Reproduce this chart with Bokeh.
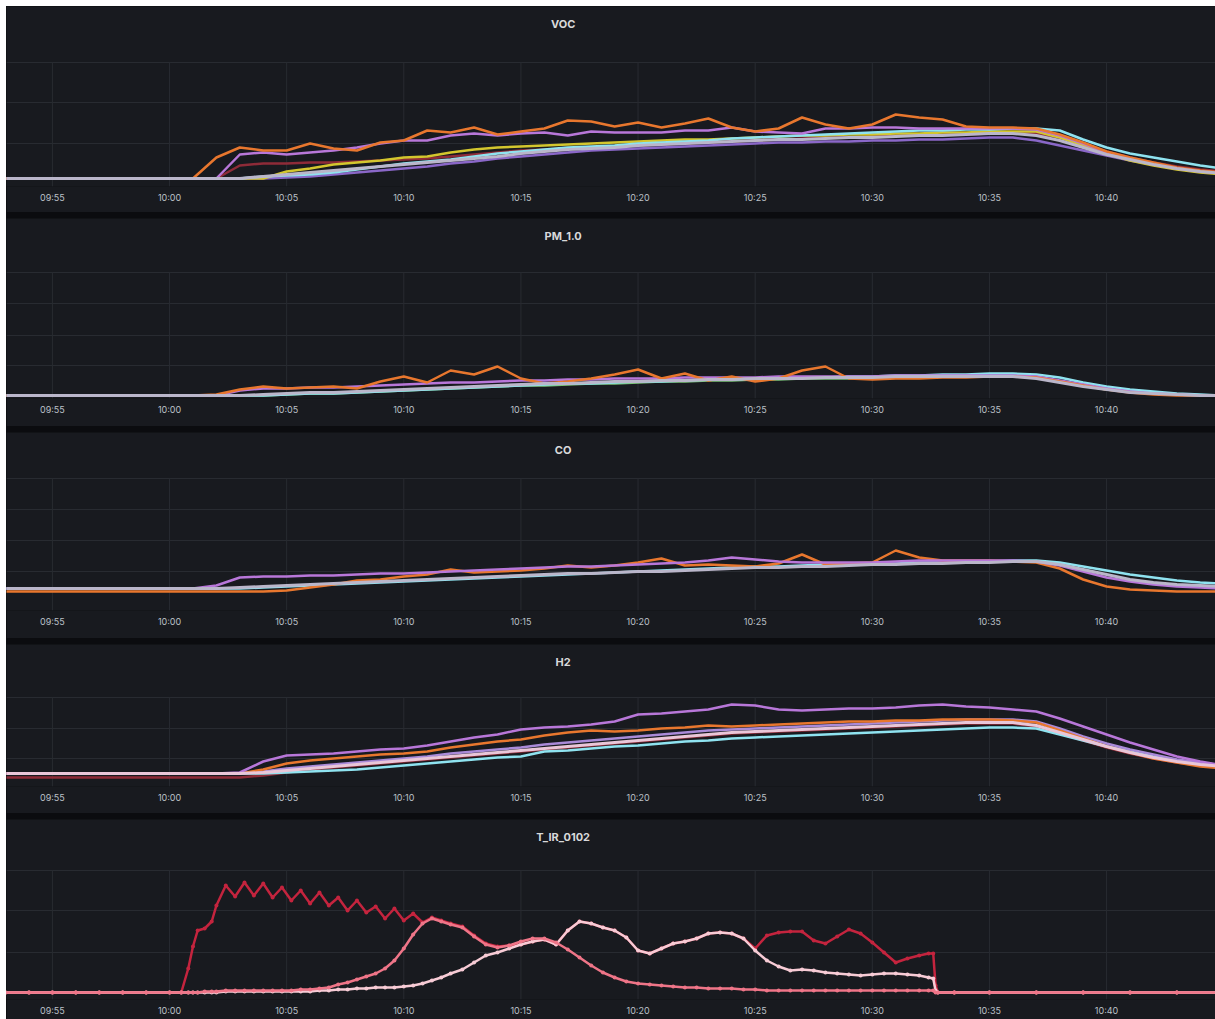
from bokeh.plotting import figure
from bokeh.layouts import column, row
from bokeh.models import Range1d, FixedTicker, Grid, ColumnDataSource, Spacer
from bokeh.core.properties import value
from bokeh.embed import file_html
from bokeh.resources import INLINE

# ---------------- time axis (minutes relative to 10:00) ----------------
tick_pos = [-5, 0, 5, 10, 15, 20, 25, 30, 35, 40]
tick_labels = ["09:55", "10:00", "10:05", "10:10", "10:15", "10:20",
               "10:25", "10:30", "10:35", "10:40"]

t_gas = [-7, -6, -5, -4, -3, -2, -1, 0, 1, 2,
         3, 4, 5, 6, 7, 8, 9, 10, 11, 12,
         13, 14, 15, 16, 17, 18, 19, 20, 21, 22,
         23, 24, 25, 26, 27, 28, 29, 30, 31, 32,
         33, 34, 35, 36, 37, 38, 39, 40, 41, 42,
         43, 44, 45]

# ---------------- VOC ----------------
voc_orange = [9, 9, 9, 9, 9, 9, 9, 9, 9, 30,
              40, 37, 37, 44, 39, 37, 45, 47, 57, 55,
              60, 53, 56, 59, 67, 66, 61, 65, 60, 64,
              69, 60, 56, 59, 70, 63, 59, 63, 73, 70,
              68, 61, 60, 60, 59, 53, 45, 36, 30, 25,
              20, 17, 15]
voc_purple = [9, 9, 9, 9, 9, 9, 9, 9, 9, 9,
              33, 35, 33, 35, 37, 40, 44, 47, 47, 52,
              54, 52, 54, 55, 52, 56, 55, 55, 55, 57,
              57, 60, 56, 55, 54, 59, 59, 60, 60, 59,
              59, 59, 59, 59, 58, 52, 44, 35, 29, 24,
              19, 16, 14]
voc_gray = [9, 9, 9, 9, 9, 9, 9, 9, 9, 9,
            9, 11, 13, 15, 17, 19, 21, 23, 25, 27,
            29, 31, 34, 36, 38, 39, 40, 42, 43, 44,
            45, 46, 47, 48, 48, 49, 50, 50, 51, 52,
            52, 53, 54, 54, 52, 47, 40, 33, 28, 23,
            19, 16, 14]
voc_cyan = [9, 9, 9, 9, 9, 9, 9, 9, 9, 9,
            9, 11, 12, 13, 15, 18, 21, 24, 26, 28,
            31, 34, 36, 38, 40, 41, 42, 44, 45, 46,
            47, 49, 50, 51, 52, 53, 54, 55, 56, 57,
            57, 58, 58, 59, 59, 57, 48, 40, 34, 30,
            26, 22, 19]
voc_violet = [9, 9, 9, 9, 9, 9, 9, 9, 9, 9,
              9, 9, 10, 11, 13, 15, 17, 19, 21, 24,
              26, 29, 31, 33, 35, 37, 38, 39, 40, 41,
              42, 43, 44, 45, 45, 46, 46, 47, 47, 48,
              48, 49, 50, 50, 47, 42, 37, 32, 27, 23,
              19, 16, 14]
voc_yellow = [9, 9, 9, 9, 9, 9, 9, 9, 9, 9,
              9, 9, 16, 19, 23, 25, 27, 30, 31, 35,
              38, 40, 41, 42, 43, 44, 45, 46, 47, 48,
              48, 49, 50, 51, 52, 52, 53, 53, 54, 54,
              55, 55, 56, 56, 56, 50, 42, 34, 27, 22,
              18, 15, 13]
voc_darkred = [9, 9, 9, 9, 9, 9, 9, 9, 9, 9,
               22, 24, 24, 25, 25, 26, 27, 28, 29, 31,
               33, 35, 37, 38, 39, 40, 41, 42, 43, 44,
               45, 46, 47, 48, 49, 50, 50, 51, 52, 52,
               53, 53, 54, 54, 54, 50, 43, 36, 30, 25,
               21, 18, 16]

# ---------------- PM_1.0 ----------------
pm_orange = [5, 5, 5, 5, 5, 5, 5, 5, 5, 6,
             11, 14, 12, 13, 14, 12, 19, 24, 18, 30,
             26, 34, 22, 17, 19, 22, 26, 31, 22, 27,
             20, 24, 19, 22, 30, 34, 22, 21, 22, 22,
             23, 23, 24, 24, 23, 19, 15, 11, 8, 6,
             5, 5, 5]
pm_purple = [5, 5, 5, 5, 5, 5, 5, 5, 5, 5,
             10, 12, 12, 13, 13, 14, 15, 16, 17, 18,
             18, 19, 20, 20, 21, 21, 22, 22, 22, 23,
             23, 23, 23, 24, 24, 24, 24, 24, 25, 25,
             25, 25, 25, 25, 24, 20, 16, 12, 9, 7,
             6, 5, 5]
pm_gray = [5, 5, 5, 5, 5, 5, 5, 5, 5, 5,
           5, 6, 7, 8, 8, 9, 10, 11, 12, 13,
           14, 15, 16, 17, 17, 18, 19, 19, 20, 20,
           21, 21, 22, 22, 22, 23, 23, 23, 24, 24,
           24, 24, 24, 24, 22, 18, 14, 11, 8, 7,
           6, 5, 5]
pm_cyan = [5, 5, 5, 5, 5, 5, 5, 5, 5, 5,
           5, 5, 6, 7, 7, 8, 9, 10, 11, 12,
           13, 14, 15, 16, 17, 17, 18, 19, 19, 20,
           21, 21, 22, 22, 23, 23, 24, 24, 25, 25,
           26, 26, 27, 27, 26, 23, 18, 14, 11, 9,
           7, 6, 5]
pm_green = [5, 5, 5, 5, 5, 5, 5, 5, 5, 5,
            5, 5, 6, 7, 7, 8, 9, 10, 11, 12,
            13, 14, 15, 15, 16, 17, 17, 18, 19, 19,
            20, 20, 21, 21, 22, 22, 22, 23, 23, 23,
            24, 24, 25, 25, 23, 19, 15, 11, 9, 7,
            6, 5, 5]

# ---------------- CO ----------------
co_gray = [24, 24, 24, 24, 24, 24, 24, 24, 24, 24,
           25, 26, 27, 28, 29, 30, 31, 32, 33, 34,
           35, 36, 37, 38, 39, 39, 40, 41, 41, 42,
           43, 44, 45, 45, 46, 46, 47, 48, 48, 49,
           49, 50, 50, 51, 51, 48, 43, 38, 33, 30,
           28, 27, 26]
co_cyan = [24, 24, 24, 24, 24, 24, 24, 24, 24, 24,
           24, 25, 26, 27, 28, 29, 30, 31, 32, 33,
           34, 35, 36, 37, 38, 39, 40, 41, 42, 43,
           44, 45, 46, 46, 47, 48, 48, 49, 49, 50,
           50, 51, 51, 52, 52, 50, 46, 42, 38, 35,
           32, 30, 29]
co_purple = [24, 24, 24, 24, 24, 24, 24, 24, 24, 27,
             35, 36, 36, 37, 37, 38, 39, 39, 40, 41,
             42, 43, 44, 45, 46, 46, 47, 48, 49, 50,
             52, 55, 53, 51, 50, 50, 50, 50, 51, 52,
             52, 52, 52, 52, 51, 47, 41, 35, 31, 28,
             26, 25, 24]
co_orange = [21, 21, 21, 21, 21, 21, 21, 21, 21, 21,
             21, 21, 22, 25, 28, 32, 33, 36, 38, 43,
             40, 41, 42, 44, 47, 45, 47, 50, 54, 47,
             48, 47, 46, 49, 58, 48, 49, 50, 62, 55,
             52, 52, 52, 51, 50, 44, 33, 26, 23, 22,
             21, 21, 21]

# ---------------- H2 ----------------
h2_purple = [14, 14, 14, 14, 14, 14, 14, 14, 14, 14,
             15, 26, 32, 33, 34, 36, 38, 39, 42, 46,
             50, 53, 58, 60, 61, 63, 66, 73, 74, 76,
             78, 83, 82, 78, 77, 78, 79, 79, 80, 82,
             83, 81, 80, 78, 76, 69, 61, 53, 45, 38,
             31, 26, 22]
h2_orange = [14, 14, 14, 14, 14, 14, 14, 14, 14, 14,
             14, 18, 24, 27, 29, 31, 33, 34, 36, 40,
             43, 46, 48, 52, 55, 57, 56, 57, 59, 60,
             62, 61, 62, 63, 64, 65, 66, 66, 67, 67,
             68, 68, 68, 67, 65, 57, 49, 41, 35, 29,
             25, 21, 19]
h2_violet = [14, 14, 14, 14, 14, 14, 14, 14, 14, 14,
             14, 16, 19, 21, 23, 25, 27, 29, 31, 34,
             36, 38, 40, 43, 45, 47, 49, 51, 53, 55,
             57, 58, 59, 60, 61, 62, 63, 64, 65, 66,
             67, 68, 68, 68, 66, 59, 51, 44, 38, 33,
             28, 25, 22]
h2_pink = [14, 14, 14, 14, 14, 14, 14, 14, 14, 14,
           14, 15, 17, 19, 21, 23, 25, 27, 29, 31,
           33, 35, 37, 39, 41, 43, 45, 47, 49, 51,
           53, 55, 56, 57, 58, 59, 60, 61, 62, 63,
           64, 65, 65, 65, 62, 55, 48, 41, 35, 30,
           26, 23, 21]
h2_cyan = [14, 14, 14, 14, 14, 14, 14, 14, 14, 14,
           14, 14, 15, 16, 17, 18, 20, 22, 24, 26,
           28, 30, 31, 36, 37, 39, 41, 42, 44, 46,
           47, 49, 50, 51, 52, 53, 54, 55, 56, 57,
           58, 59, 60, 60, 59, 53, 47, 41, 36, 31,
           27, 24, 22]
h2_darkred = [10, 10, 10, 10, 10, 10, 10, 10, 10, 10,
              10, 12, 15, 18, 20, 22, 24, 26, 28, 30,
              32, 34, 36, 38, 40, 42, 44, 46, 48, 50,
              52, 54, 55, 56, 57, 58, 59, 60, 61, 62,
              63, 64, 64, 64, 61, 54, 47, 40, 34, 29,
              25, 22, 20]

# ---------------- T_IR_0102 ----------------
t_ir = [-7, -6, -5, -4, -3, -2, -1, 0, 0.5, 0.8,
        1.0, 1.2, 1.5, 1.8, 2.0, 2.4, 2.8, 3.2, 3.6, 4.0,
        4.4, 4.8, 5.2, 5.6, 6.0, 6.4, 6.8, 7.2, 7.6, 8.0,
        8.4, 8.8, 9.2, 9.6, 10.0, 10.4, 10.8, 11.2, 11.6, 12.0,
        12.5, 13.0, 13.5, 14.0, 14.5, 15.0, 15.5, 16.0, 16.5, 17.0,
        17.5, 18.0, 18.5, 19.0, 19.5, 20.0, 20.5, 21.0, 21.5, 22.0,
        22.5, 23.0, 23.5, 24.0, 24.5, 25.0, 25.5, 26.0, 26.5, 27.0,
        27.5, 28.0, 28.5, 29.0, 29.5, 30.0, 30.5, 31.0, 31.5, 32.0,
        32.4, 32.6, 32.7, 32.8, 33.5, 35, 37, 39, 41, 43,
        45]
ir_1 = [6, 6, 6, 6, 6, 6, 6, 6, 6, 30,
        52, 68, 70, 77, 93, 113, 102, 116, 103, 115,
        101, 111, 98, 108, 95, 106, 93, 101, 88, 98,
        86, 92, 80, 90, 78, 85, 76, 81, 78, 75,
        72, 63, 55, 52, 53, 54, 57, 59, 54, 68,
        77, 75, 71, 68, 61, 48, 45, 50, 55, 57,
        60, 65, 66, 65, 60, 50, 63, 66, 67, 67,
        58, 55, 62, 69, 65, 56, 46, 36, 40, 43,
        45, 45, 13, 6, 6, 6, 6, 6, 6, 6,
        6]
ir_2 = [6, 6, 6, 6, 6, 6, 6, 6, 6, 6,
        6, 6, 7, 7, 7, 8, 8, 8, 8, 8,
        8, 8, 8, 9, 9, 10, 11, 14, 16, 19,
        22, 25, 30, 38, 50, 64, 75, 80, 77, 74,
        71, 62, 54, 51, 53, 57, 60, 60, 56, 49,
        41, 33, 26, 21, 17, 15, 14, 13, 12, 11,
        11, 10, 10, 10, 9, 9, 8, 8, 8, 8,
        8, 8, 8, 8, 8, 8, 8, 8, 8, 8,
        8, 8, 6, 6, 6, 6, 6, 6, 6, 6,
        6]
ir_3 = [6, 6, 6, 6, 6, 6, 6, 6, 6, 6,
        6, 6, 6, 6, 6, 7, 7, 7, 7, 7,
        7, 7, 7, 7, 7, 8, 8, 9, 9, 10,
        10, 11, 11, 11, 12, 13, 15, 18, 21, 25,
        29, 36, 43, 46, 50, 54, 57, 59, 54, 68,
        77, 75, 71, 68, 61, 48, 45, 50, 55, 57,
        60, 65, 66, 65, 60, 48, 38, 32, 28, 29,
        28, 26, 25, 24, 23, 24, 25, 25, 24, 23,
        21, 20, 8, 6, 6, 6, 6, 6, 6, 6,
        6]

# ---------------- styling ----------------
BG = "#181a1f"
GAP = "#0b0c0f"
GRID = "#282b31"
TITLE_C = "#d8d9da"
TICK_C = "#bcc1c8"
FONT = "Inter"
W = 1209
X0, X1 = -6.96, 44.65
TITLE_X = 16.8
LW = 2.5

ORANGE = "#e8772e"
PURPLE = "#b877d9"
YELLOW = "#d3c62e"
CYAN = "#8fe3f0"
GRAY = "#bab6ca"
VIOLET = "#8a67c8"
DARKRED = "#8e2b38"
GREEN = "#7cc47a"
PINK = "#e9c6d8"
LAV = "#a98ad8"
IR1 = "#c4243e"
IR2 = "#ef7588"
IR3 = "#f7cbd5"


def make_panel(title, height, bottom, y0, y1, ygrid, t, series, points=False):
    p = figure(width=W, height=height, x_range=Range1d(X0, X1),
               y_range=Range1d(y0, y1), output_backend="svg",
               toolbar_location=None, y_axis_location=None,
               min_border_left=0, min_border_right=0,
               min_border_top=0, min_border_bottom=bottom)
    p.background_fill_color = BG
    p.border_fill_color = BG
    p.outline_line_color = None

    ax = p.xaxis[0]
    ax.ticker = FixedTicker(ticks=tick_pos)
    ax.major_label_overrides = dict(zip(tick_pos, tick_labels))
    ax.major_tick_out = 0
    ax.major_tick_in = 0
    ax.minor_tick_out = 0
    ax.minor_tick_in = 0
    ax.axis_line_color = None
    ax.major_label_standoff = 5
    ax.major_label_text_font = FONT
    ax.major_label_text_font_size = "9px"
    ax.major_label_text_color = TICK_C

    p.xgrid.grid_line_color = None
    for g in p.ygrid:
        g.grid_line_color = None
    p.add_layout(Grid(dimension=1, ticker=FixedTicker(ticks=ygrid),
                      grid_line_color=GRID, grid_line_width=1))
    # vertical grid lines only up to the top horizontal grid line
    n = len(tick_pos)
    p.segment(x0=tick_pos, x1=tick_pos, y0=[y0] * n, y1=[max(ygrid)] * n,
              line_color=GRID, line_width=1)

    # panel title (centred text, 17px below panel top)
    p.text(x=[TITLE_X], y=[y1 - 17], text=[title], text_align="center",
           text_baseline="middle", text_font=value(FONT),
           text_font_size=value("11px"), text_font_style="bold",
           text_color=TITLE_C)

    for vals, color, lw in series:
        src = ColumnDataSource(dict(x=t, y=vals))
        p.line("x", "y", source=src, line_color=color, line_width=lw,
               line_join="round")
        if points:
            p.scatter("x", "y", source=src, size=4, fill_color=color,
                      line_color=None)
    return p


p1 = make_panel("VOC", 206, 26, 1, 181, [44, 85, 125], t_gas, [
    (voc_darkred, DARKRED, LW), (voc_violet, VIOLET, LW), (voc_yellow, YELLOW, LW),
    (voc_cyan, CYAN, LW), (voc_purple, PURPLE, LW), (voc_orange, ORANGE, LW),
    (voc_gray, GRAY, 3)])
p2 = make_panel("PM_1.0", 208, 28, 2, 182, [35, 65, 97, 128], t_gas, [
    (pm_green, GREEN, LW), (pm_cyan, CYAN, LW), (pm_purple, PURPLE, LW),
    (pm_orange, ORANGE, LW), (pm_gray, GRAY, 3)])
p3 = make_panel("CO", 206, 28, 2, 180, [41, 72, 103, 134], t_gas, [
    (co_cyan, CYAN, LW), (co_orange, ORANGE, LW), (co_purple, PURPLE, LW),
    (co_gray, GRAY, 3)])
p4 = make_panel("H2", 169, 27, 1, 143, [29, 59, 90], t_gas, [
    (h2_darkred, DARKRED, LW), (h2_cyan, CYAN, LW), (h2_violet, LAV, LW),
    (h2_orange, ORANGE, LW), (h2_purple, PURPLE, LW), (h2_pink, PINK, 3)])
p5 = make_panel("T_IR_0102", 200, 20, -1, 179, [46, 88, 128], t_ir, [
    (ir_1, IR1, LW), (ir_3, IR3, LW), (ir_2, IR2, LW)], points=True)

panels = column(p1, p2, p3, p4, p5, spacing=6,
                styles={"background-color": GAP})
layout = column(Spacer(height=6), row(Spacer(width=6), panels))

open("out.html", "w").write(file_html(layout, INLINE))
